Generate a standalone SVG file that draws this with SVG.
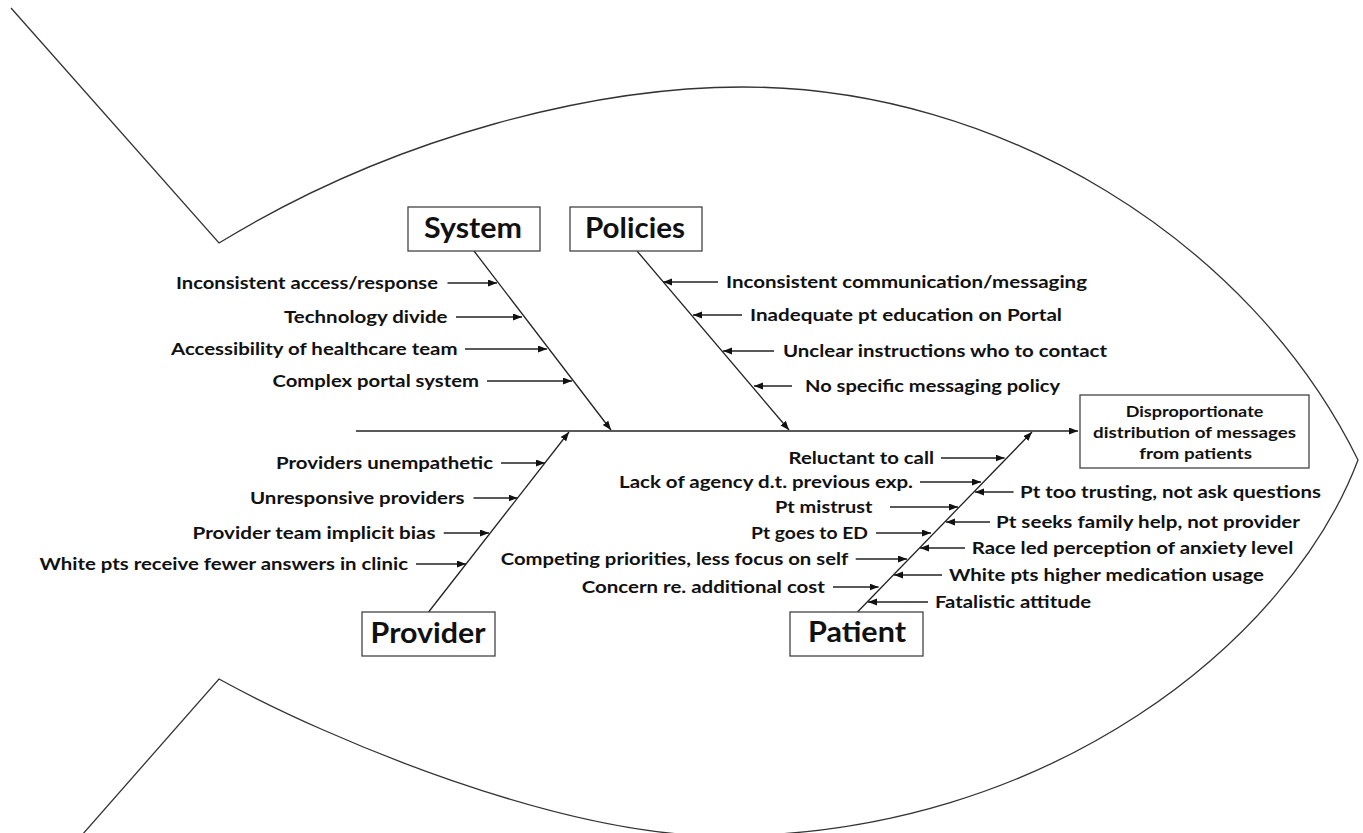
<svg xmlns="http://www.w3.org/2000/svg" width="1363" height="833" viewBox="0 0 1363 833">
<style>
.outline{fill:none;stroke:#333;stroke-width:1.3}
.ln{stroke:#222;stroke-width:1.3;fill:none}
.box{fill:#fff;stroke:#444;stroke-width:1.3}
.lbl{font-family:Lato,'Open Sans',sans-serif;font-weight:bold;font-size:17px;fill:#111}
.cat{font-family:Lato,'Open Sans',sans-serif;font-weight:bold;font-size:28px;fill:#111}
.eff{font-family:Lato,'Open Sans',sans-serif;font-weight:bold;font-size:15px;fill:#111}
</style>
<defs>
<marker id="ah" markerUnits="userSpaceOnUse" markerWidth="10" markerHeight="8" refX="9" refY="3.5" orient="auto">
<path d="M0,0 L9,3.5 L0,7 z" fill="#111"/>
</marker>
</defs>
<rect width="1363" height="833" fill="#fff"/>
<g id="fish">
<path class="outline" d="M11,8 L219,243 C399,133 600,87 743,87 C1000,87 1250,240 1358,460 C1290,640 1050,836 722,836 C560,836 330,740 219,679 L82,835"/>
</g>
<g id="connectors">
<line class="ln" x1="356" y1="431" x2="1078" y2="431" marker-end="url(#ah)"/>
<line class="ln" x1="474" y1="251" x2="611" y2="430" marker-end="url(#ah)"/>
<line class="ln" x1="637" y1="251" x2="789" y2="430" marker-end="url(#ah)"/>
<line class="ln" x1="428.6" y1="612" x2="569" y2="432" marker-end="url(#ah)"/>
<line class="ln" x1="857.5" y1="612" x2="1032" y2="432" marker-end="url(#ah)"/>
<line class="ln" x1="447.5" y1="283" x2="497" y2="283" marker-end="url(#ah)"/>
<line class="ln" x1="456" y1="317" x2="522" y2="317" marker-end="url(#ah)"/>
<line class="ln" x1="465" y1="349" x2="547" y2="349" marker-end="url(#ah)"/>
<line class="ln" x1="487" y1="381" x2="572" y2="381" marker-end="url(#ah)"/>
<line class="ln" x1="718" y1="282" x2="663" y2="282" marker-end="url(#ah)"/>
<line class="ln" x1="742" y1="315" x2="693" y2="315" marker-end="url(#ah)"/>
<line class="ln" x1="774" y1="351" x2="723" y2="351" marker-end="url(#ah)"/>
<line class="ln" x1="792" y1="386" x2="754" y2="386" marker-end="url(#ah)"/>
<line class="ln" x1="501" y1="463" x2="545" y2="463" marker-end="url(#ah)"/>
<line class="ln" x1="473.5" y1="498" x2="517.5" y2="498" marker-end="url(#ah)"/>
<line class="ln" x1="443.7" y1="533" x2="489" y2="533" marker-end="url(#ah)"/>
<line class="ln" x1="416" y1="564" x2="466" y2="564" marker-end="url(#ah)"/>
<line class="ln" x1="941" y1="458" x2="1004.6" y2="458" marker-end="url(#ah)"/>
<line class="ln" x1="920" y1="482" x2="981" y2="482" marker-end="url(#ah)"/>
<line class="ln" x1="890" y1="507" x2="958" y2="507" marker-end="url(#ah)"/>
<line class="ln" x1="876" y1="533" x2="931" y2="533" marker-end="url(#ah)"/>
<line class="ln" x1="855.7" y1="559" x2="907" y2="559" marker-end="url(#ah)"/>
<line class="ln" x1="833" y1="587" x2="878.6" y2="587" marker-end="url(#ah)"/>
<line class="ln" x1="1013.6" y1="492" x2="975" y2="492" marker-end="url(#ah)"/>
<line class="ln" x1="990" y1="522" x2="946" y2="522" marker-end="url(#ah)"/>
<line class="ln" x1="965" y1="548" x2="920" y2="548" marker-end="url(#ah)"/>
<line class="ln" x1="942" y1="575" x2="894" y2="575" marker-end="url(#ah)"/>
<line class="ln" x1="928" y1="602" x2="868" y2="602" marker-end="url(#ah)"/>
</g>
<g id="effect">
<rect class="box" x="1080" y="395" width="229" height="73"/>
<text class="eff" x="1125.7" y="417.4" textLength="137.7" lengthAdjust="spacingAndGlyphs">Disproportionate</text>
<text class="eff" x="1093" y="438.4" textLength="203" lengthAdjust="spacingAndGlyphs">distribution of messages</text>
<text class="eff" x="1139.3" y="459.4" textLength="112.7" lengthAdjust="spacingAndGlyphs">from patients</text>
</g>
<g id="system">
<rect class="box" x="408" y="207" width="132" height="44"/>
<text class="cat" x="424" y="238" textLength="98" lengthAdjust="spacingAndGlyphs">System</text>
</g>
<g id="policies">
<rect class="box" x="570" y="207" width="132" height="44"/>
<text class="cat" x="585" y="238" textLength="100" lengthAdjust="spacingAndGlyphs">Policies</text>
</g>
<g id="provider">
<rect class="box" x="362" y="612" width="133" height="44"/>
<text class="cat" x="370.6" y="643" textLength="115" lengthAdjust="spacingAndGlyphs">Provider</text>
</g>
<g id="patient">
<rect class="box" x="790" y="612" width="133" height="44"/>
<text class="cat" x="808" y="642" textLength="98" lengthAdjust="spacingAndGlyphs">Patient</text>
</g>
<g id="system-causes">
<text class="lbl" x="176" y="289" textLength="262" lengthAdjust="spacingAndGlyphs">Inconsistent access/response</text>
<text class="lbl" x="284" y="323" textLength="163.5" lengthAdjust="spacingAndGlyphs">Technology divide</text>
<text class="lbl" x="171" y="355" textLength="286.5" lengthAdjust="spacingAndGlyphs">Accessibility of healthcare team</text>
<text class="lbl" x="272.5" y="387" textLength="206.5" lengthAdjust="spacingAndGlyphs">Complex portal system</text>
</g>
<g id="policies-causes">
<text class="lbl" x="726" y="288" textLength="361" lengthAdjust="spacingAndGlyphs">Inconsistent communication/messaging</text>
<text class="lbl" x="750" y="321" textLength="312" lengthAdjust="spacingAndGlyphs">Inadequate pt education on Portal</text>
<text class="lbl" x="783" y="357" textLength="324" lengthAdjust="spacingAndGlyphs">Unclear instructions who to contact</text>
<text class="lbl" x="805" y="392" textLength="255" lengthAdjust="spacingAndGlyphs">No specific messaging policy</text>
</g>
<g id="provider-causes">
<text class="lbl" x="276" y="469" textLength="217" lengthAdjust="spacingAndGlyphs">Providers unempathetic</text>
<text class="lbl" x="250" y="504" textLength="214.5" lengthAdjust="spacingAndGlyphs">Unresponsive providers</text>
<text class="lbl" x="192.6" y="539" textLength="243" lengthAdjust="spacingAndGlyphs">Provider team implicit bias</text>
<text class="lbl" x="39.6" y="570" textLength="368.4" lengthAdjust="spacingAndGlyphs">White pts receive fewer answers in clinic</text>
</g>
<g id="patient-causes">
<text class="lbl" x="788.6" y="464" textLength="145.4" lengthAdjust="spacingAndGlyphs">Reluctant to call</text>
<text class="lbl" x="619" y="488" textLength="294" lengthAdjust="spacingAndGlyphs">Lack of agency d.t. previous exp.</text>
<text class="lbl" x="775" y="513" textLength="97.5" lengthAdjust="spacingAndGlyphs">Pt mistrust</text>
<text class="lbl" x="751" y="539" textLength="117" lengthAdjust="spacingAndGlyphs">Pt goes to ED</text>
<text class="lbl" x="500.7" y="565" textLength="347.6" lengthAdjust="spacingAndGlyphs">Competing priorities, less focus on self</text>
<text class="lbl" x="581.7" y="593" textLength="243.3" lengthAdjust="spacingAndGlyphs">Concern re. additional cost</text>
<text class="lbl" x="1020" y="498" textLength="301" lengthAdjust="spacingAndGlyphs">Pt too trusting, not ask questions</text>
<text class="lbl" x="996" y="528" textLength="304" lengthAdjust="spacingAndGlyphs">Pt seeks family help, not provider</text>
<text class="lbl" x="971.7" y="554" textLength="321.6" lengthAdjust="spacingAndGlyphs">Race led perception of anxiety level</text>
<text class="lbl" x="949" y="581" textLength="315" lengthAdjust="spacingAndGlyphs">White pts higher medication usage</text>
<text class="lbl" x="935" y="608" textLength="156" lengthAdjust="spacingAndGlyphs">Fatalistic attitude</text>
</g>
</svg>
